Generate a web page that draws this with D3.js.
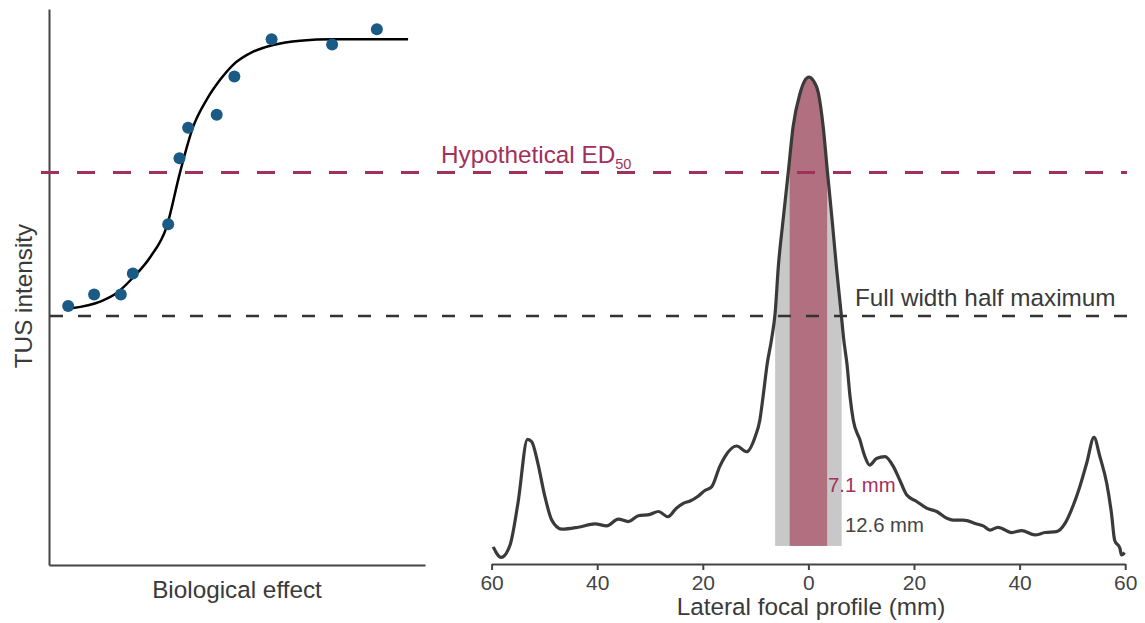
<!DOCTYPE html>
<html>
<head>
<meta charset="utf-8">
<script src="https://cdn.jsdelivr.net/npm/d3@7"></script>
<style>
  html, body { margin: 0; padding: 0; background: #fff; }
  svg { display: block; font-family: "Liberation Sans", Arial, sans-serif; }
</style>
</head>
<body>
<svg id="chart" width="1145" height="623"></svg>
<script>
// ---------------- data ----------------
// Left panel: dose-response (arbitrary units)
const effectX = [5.1, 12.0, 19.1, 22.3, 31.7, 34.7, 37.0, 44.6, 49.3, 59.2, 75.3, 87.2];
const effectY = [0.521, 0.545, 0.545, 0.589, 0.692, 0.830, 0.894, 0.921, 1.001, 1.079, 1.068, 1.100];
const fitX = [6.0, 13.6, 18.0, 22.3, 26.9, 31.3, 34.8, 38.3, 41.9, 45.5, 48.9, 54.3, 59.6, 66.8, 75.5, 95.5];
const fitY = [0.516, 0.530, 0.548, 0.580, 0.623, 0.687, 0.799, 0.895, 0.952, 0.994, 1.025, 1.053, 1.067, 1.076, 1.079, 1.079];

// Right panel: lateral focal profile (mm, normalised intensity)
const profileMm = [-59.7, -58.2, -56.5, -55.0, -53.2, -52.4, -51.3, -49.9, -48.6, -46.7, -43.6, -40.4, -38.2, -36.0,
  -34.1, -32.2, -30.0, -28.4, -26.6, -25.0, -23.7, -22.4, -20.9, -19.6, -18.3, -16.8, -15.8, -13.6, -11.7, -10.1,
  -9.2, -8.6, -7.8, -7.0, -6.3, -5.7, -4.8, -3.8, -2.9, -1.6, -0.7, 0.1, 0.9, 1.9, 2.8, 3.6, 4.5, 5.3, 6.2, 6.7,
  7.3, 7.9, 8.5, 9.75, 10.7, 11.6, 12.9, 14.5, 16.1, 17.3, 18.6, 20.5, 22.4, 24.3, 26.2, 27.4, 29.3, 31.9, 33.1,
  34.4, 35.9, 38.5, 40.4, 42.9, 44.8, 47.0, 48.6, 49.8, 51.4, 52.7, 54.1, 55.2, 56.5, 57.4, 58.0, 59.0, 59.3, 59.9];
const profileVal = [0.017, -0.005, 0.021, 0.109, 0.242, 0.237, 0.195, 0.122, 0.073, 0.054, 0.058, 0.065, 0.061, 0.075,
  0.070, 0.082, 0.085, 0.091, 0.080, 0.098, 0.108, 0.113, 0.123, 0.135, 0.143, 0.185, 0.206, 0.228, 0.216, 0.247,
  0.282, 0.33, 0.40, 0.45, 0.506, 0.603, 0.70, 0.802, 0.896, 0.965, 0.992, 1.0, 0.993, 0.966, 0.896, 0.802, 0.70, 0.603, 0.506, 0.45,
  0.40, 0.33, 0.282, 0.241, 0.206, 0.188, 0.202, 0.206, 0.185, 0.157, 0.126, 0.112, 0.098, 0.091, 0.077, 0.073, 0.073, 0.065, 0.061,
  0.052, 0.058, 0.047, 0.051, 0.042, 0.047, 0.049, 0.066, 0.094, 0.143, 0.192, 0.246, 0.206, 0.150, 0.087, 0.031, 0.014, 0.0, 0.005];

const xTicks = [-60, -40, -20, 0, 20, 40, 60];
const fwhmLevel = 0.5;      // half maximum
const ed50Level = 0.80;     // hypothetical ED50 level
const fwhmWidth = 12.6;     // mm
const ed50Width = 7.1;      // mm
const bandBase = 0.019;     // bottom of the shaded bands

// ---------------- drawing ----------------
const svg = d3.select("#chart");
const textColor = "#3a3a3a";
const red = "#a3305a";

// shared intensity scale
const y = d3.scaleLinear().domain([0, 1]).range([555, 77]);

// ----- left panel -----
const xL = d3.scaleLinear().domain([0, 100]).range([49, 425]);
const yL = d3.scaleLinear().domain([y.invert(565), y.invert(9)]).range([565, 9]);

const gL = svg.append("g");
gL.append("g").attr("transform", "translate(0,565)")
  .call(d3.axisBottom(xL).tickValues([]).tickSizeOuter(0))
  .call(g => g.select(".domain").attr("stroke", "#444").attr("stroke-width", 2));
gL.append("g").attr("transform", "translate(49,0)")
  .call(d3.axisLeft(yL).tickValues([]).tickSizeOuter(0))
  .call(g => g.select(".domain").attr("stroke", "#444").attr("stroke-width", 2));

gL.append("text").attr("x", 237).attr("y", 598).attr("text-anchor", "middle")
  .attr("font-size", 24.3).attr("fill", textColor).text("Biological effect");
gL.append("text").attr("transform", "translate(32,296) rotate(-90)").attr("text-anchor", "middle")
  .attr("font-size", 24.3).attr("fill", textColor).text("TUS intensity");

// ----- right panel -----
const xR = d3.scaleLinear().domain([-60, 60]).range([491.6, 1125.2]);
const profile = profileMm.map((m, i) => ({ m, v: profileVal[i] }));

const defs = svg.append("defs");
defs.append("clipPath").attr("id", "under")
  .append("path")
  .attr("d", d3.area().x(d => xR(d.m)).y0(y(bandBase)).y1(d => y(d.v)).curve(d3.curveMonotoneX)(profile));

const bands = svg.append("g").attr("clip-path", "url(#under)");
bands.append("rect").attr("x", xR(-fwhmWidth / 2)).attr("width", xR(fwhmWidth / 2) - xR(-fwhmWidth / 2))
  .attr("y", 0).attr("height", y(bandBase)).attr("fill", "#c8c8c8");
bands.append("rect").attr("x", xR(-ed50Width / 2)).attr("width", xR(ed50Width / 2) - xR(-ed50Width / 2))
  .attr("y", 0).attr("height", y(bandBase)).attr("fill", "#b07080");

// x axis
const axR = svg.append("g").attr("transform", "translate(0,564)")
  .call(d3.axisBottom(xR).tickValues(xTicks).tickFormat(d => Math.abs(d)).tickSize(6).tickPadding(5).tickSizeOuter(0));
axR.select(".domain").attr("stroke", "#444").attr("stroke-width", 2);
axR.selectAll(".tick line").attr("stroke", "#444").attr("stroke-width", 2);
axR.selectAll(".tick text").attr("font-size", 21).attr("fill", "#444")
  .attr("font-family", "'Liberation Sans', Arial, sans-serif");

svg.append("text").attr("x", 811).attr("y", 615).attr("text-anchor", "middle")
  .attr("font-size", 24.3).attr("fill", textColor).text("Lateral focal profile (mm)");

// profile curve
svg.append("path").datum(profile)
  .attr("fill", "none").attr("stroke", "#3a3a3a").attr("stroke-width", 3.2).attr("stroke-linejoin", "round")
  .attr("d", d3.line().x(d => xR(d.m)).y(d => y(d.v)).curve(d3.curveMonotoneX));

// band labels
svg.append("text").attr("x", 828).attr("y", 492).attr("font-size", 20.3).attr("fill", red).text("7.1 mm");
svg.append("text").attr("x", 845).attr("y", 532).attr("font-size", 20.3).attr("fill", "#444").text("12.6 mm");

// ----- reference lines spanning both panels -----
svg.append("line").attr("x1", 41).attr("x2", 1127).attr("y1", y(ed50Level)).attr("y2", y(ed50Level))
  .attr("stroke", red).attr("stroke-width", 3).attr("stroke-dasharray", "18,18");
svg.append("line").attr("x1", 50).attr("x2", 1127).attr("y1", y(fwhmLevel)).attr("y2", y(fwhmLevel))
  .attr("stroke", "#333").attr("stroke-width", 2.5).attr("stroke-dasharray", "13,15");

const ed = svg.append("text").attr("x", 441).attr("y", 163).attr("font-size", 24.3).attr("fill", red);
ed.append("tspan").text("Hypothetical ED");
ed.append("tspan").attr("font-size", 14.5).attr("dy", 6).text("50");

svg.append("text").attr("x", 855).attr("y", 306).attr("font-size", 24.3).attr("fill", textColor)
  .text("Full width half maximum");

// left panel curve and points (on top)
const fit = fitX.map((x, i) => ({ x, y: fitY[i] }));
gL.append("path").datum(fit).attr("fill", "none").attr("stroke", "#000").attr("stroke-width", 2.5)
  .attr("d", d3.line().x(d => xL(d.x)).y(d => yL(d.y)).curve(d3.curveMonotoneX));
gL.selectAll("circle.pt").data(effectX.map((x, i) => ({ x, y: effectY[i] })))
  .join("circle").attr("class", "pt")
  .attr("cx", d => xL(d.x)).attr("cy", d => yL(d.y)).attr("r", 6).attr("fill", "#1a5a85");
</script>
</body>
</html>
